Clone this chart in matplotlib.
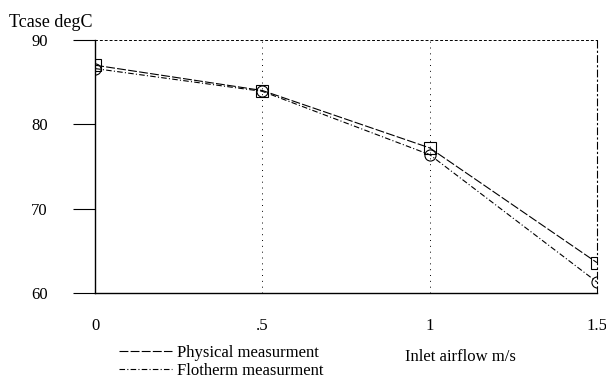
import matplotlib.pyplot as plt

plt.rcParams['font.family'] = ['Liberation Serif', 'DejaVu Serif']

airflow = [0, 0.5, 1.0, 1.5]
physical = [87.0, 84.0, 77.2, 63.6]
flotherm = [86.6, 83.9, 76.4, 61.3]
xticks = [0, 0.5, 1.0, 1.5]
xlabels = ["0", ".5", "1", "1.5"]
yticks = [60, 70, 80, 90]

fig = plt.figure(figsize=(6.06, 3.8), dpi=100)
ax = fig.add_axes([0.157, 0.229, 0.828, 0.666])

ax.plot(airflow, physical, color='black', lw=0.8, ls=(0, (8, 2)),
        marker='s', ms=8, mfc='none', mew=0.8, label='Physical measurment')
ax.plot(airflow, flotherm, color='black', lw=0.8, ls=(0, (5, 2, 1, 2)),
        marker='o', ms=8, mfc='none', mew=0.8, label='Flotherm measurment')

ax.set_xlim(0, 1.5)
ax.set_ylim(60, 90)
ax.set_xticks(xticks)
ax.set_xticklabels(xlabels)
ax.set_yticks(yticks)
ax.tick_params(axis='y', direction='out', length=16, width=0.8, pad=18, labelsize=12)
ax.tick_params(axis='x', length=0, pad=18, labelsize=12)
# vertical dotted grid only, plus dotted top edge and dash-dot right edge
ax.grid(True, axis='x', color='black', ls=(0, (1, 5)), lw=0.7)
ax.spines['top'].set_linestyle((0, (2, 3)))
ax.spines['top'].set_linewidth(0.7)
ax.spines['right'].set_linestyle((0, (6, 3, 1, 3)))
ax.spines['right'].set_linewidth(0.8)
ax.spines['left'].set_linewidth(1.0)
ax.spines['bottom'].set_linewidth(1.0)

fig.text(0.015, 0.93, 'Tcase degC', fontsize=13)
fig.text(0.668, 0.05, 'Inlet airflow m/s', fontsize=12)

ax.legend(loc='upper left', bbox_to_anchor=(0.03, -0.172), frameon=False,
          fontsize=12, handlelength=3.2, handletextpad=0.3, labelspacing=0.1,
          borderpad=0, markerscale=0)

fig.savefig('out.png', dpi=100)
